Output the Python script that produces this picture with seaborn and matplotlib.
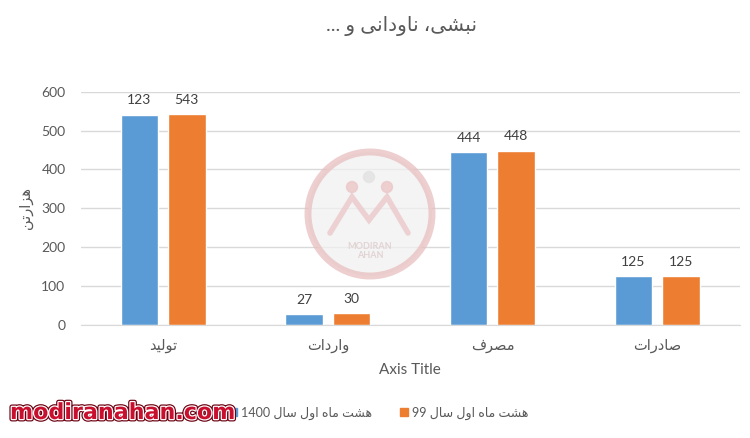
import re
import pandas as pd
import matplotlib
matplotlib.use("Agg")
import matplotlib.pyplot as plt
import matplotlib.patheffects as pe
from matplotlib.patches import Ellipse
from matplotlib.lines import Line2D
import seaborn as sns

# ---------------------------
# Data
# ---------------------------
categories = ["تولید", "واردات", "مصرف", "صادرات"]
series_names = ["هشت ماه اول سال 1400", "هشت ماه اول سال 99"]
values_1400 = [541, 27, 444, 125]
values_99 = [543, 30, 448, 125]
labels_1400 = ["123", "27", "444", "125"]
labels_99 = ["543", "30", "448", "125"]
title_text = "نبشی، ناودانی و ..."
ylabel_text = "هزارتن"
xlabel_text = "Axis Title"

colors = ["#5B9BD5", "#ED7D31"]
text_gray = "#595959"
grid_gray = "#D9D9D9"

# ---------------------------
# Simple Persian shaping (presentation forms + visual order)
# (isolated, final, initial, medial)
# ---------------------------
FORMS = {
    "ا": (0xFE8D, 0xFE8E, None, None),
    "ب": (0xFE8F, 0xFE90, 0xFE91, 0xFE92),
    "ت": (0xFE95, 0xFE96, 0xFE97, 0xFE98),
    "د": (0xFEA9, 0xFEAA, None, None),
    "ر": (0xFEAD, 0xFEAE, None, None),
    "ز": (0xFEAF, 0xFEB0, None, None),
    "س": (0xFEB1, 0xFEB2, 0xFEB3, 0xFEB4),
    "ش": (0xFEB5, 0xFEB6, 0xFEB7, 0xFEB8),
    "ص": (0xFEB9, 0xFEBA, 0xFEBB, 0xFEBC),
    "ف": (0xFED1, 0xFED2, 0xFED3, 0xFED4),
    "ل": (0xFEDD, 0xFEDE, 0xFEDF, 0xFEE0),
    "م": (0xFEE1, 0xFEE2, 0xFEE3, 0xFEE4),
    "ن": (0xFEE5, 0xFEE6, 0xFEE7, 0xFEE8),
    "ه": (0xFEE9, 0xFEEA, 0xFEEB, 0xFEEC),
    "و": (0xFEED, 0xFEEE, None, None),
    "ی": (0xFEEF, 0xFEF0, 0xFEF3, 0xFEF4),
}


def shape(text):
    out = []
    for i, ch in enumerate(text):
        f = FORMS.get(ch)
        if f is None:
            out.append(ch)
            continue
        prev = text[i - 1] if i > 0 else ""
        nxt = text[i + 1] if i + 1 < len(text) else ""
        join_prev = prev in FORMS and FORMS[prev][2] is not None
        join_next = f[2] is not None and nxt in FORMS
        if join_prev and join_next:
            code = f[3]
        elif join_prev:
            code = f[1]
        elif join_next:
            code = f[2]
        else:
            code = f[0]
        out.append(chr(code))
    tokens = re.findall(r"[0-9.]+|.", "".join(out))
    return "".join(reversed(tokens))


cat_shaped = [shape(c) for c in categories]
series_shaped = [shape(s) for s in series_names]

df = pd.DataFrame({
    "category": cat_shaped * 2,
    "series": [series_shaped[0]] * 4 + [series_shaped[1]] * 4,
    "value": values_1400 + values_99,
})

# ---------------------------
# Plot
# ---------------------------
sns.set_style("white")
plt.rcParams["font.family"] = ["Lato", "DejaVu Sans"]

fig = plt.figure(figsize=(7.5, 4.38), dpi=100)
ax = fig.add_axes([0.1076, 0.258, 0.8784, 0.5326])

sns.barplot(data=df, x="category", y="value", hue="series",
            order=cat_shaped, hue_order=series_shaped, palette=colors,
            saturation=1, width=0.577, gap=0.21, ax=ax, legend=False)

ax.set_ylim(0, 600)
ax.set_xlim(-0.5, 3.5)
ax.set_yticks(range(0, 700, 100))
ax.yaxis.grid(True, color=grid_gray, lw=1)
ax.set_axisbelow(True)
for side in ["top", "right", "left"]:
    ax.spines[side].set_visible(False)
ax.spines["bottom"].set_color(grid_gray)
ax.tick_params(axis="y", length=0, pad=11, labelsize=10, labelcolor=text_gray)
ax.tick_params(axis="x", length=0, pad=10, labelsize=10.5, labelcolor=text_gray)
ax.set_ylabel("")
ax.set_xlabel(xlabel_text, fontsize=11, color=text_gray)
ax.xaxis.set_label_coords(0.5, -0.193)
ax.xaxis.label.set_va("center")

for cont, labs in zip(ax.containers, [labels_1400, labels_99]):
    ax.bar_label(cont, labels=labs, padding=6, fontsize=10, color="#404040")

# watermark logo in the middle
ring = Ellipse((370 / 750, 1 - 214 / 438), 124 / 750, 124 / 438,
               transform=fig.transFigure, facecolor="#f1f1f1",
               edgecolor="#e9bfc0", lw=5, alpha=0.75, zorder=0.6)
ax.add_patch(ring)
m_x = [330, 352, 369, 387, 408]
m_y = [233, 197, 220, 197, 233]
ax.add_line(Line2D([x / 750 for x in m_x], [1 - y / 438 for y in m_y],
                   transform=fig.transFigure, color="#ecc9ca", lw=4,
                   alpha=0.8, zorder=0.7, solid_joinstyle="miter"))
for cx, cy, cc in [(352, 187, "#ecc9ca"), (369, 177, "#e3e3e3"), (387, 187, "#ecc9ca")]:
    ax.add_patch(Ellipse((cx / 750, 1 - cy / 438), 11 / 750, 11 / 438,
                         transform=fig.transFigure, color=cc, alpha=0.85,
                         zorder=0.7))
fig.text(370 / 750, 1 - 251 / 438, "MODIRAN\nAHAN", ha="center", va="center",
         fontsize=6.5, color="#e2d3d3", fontweight="bold", linespacing=1.0)

# title and y label
fig.text(402 / 750, 1 - 26 / 438, shape(title_text), ha="center", va="center",
         fontsize=14.5, color=text_gray)
fig.text(26 / 750, 1 - 208 / 438, shape(ylabel_text), ha="center", va="center",
         rotation=90, fontsize=10.5, color=text_gray)

# legend
handles = [plt.Rectangle((0, 0), 1, 1, color=c) for c in colors]
fig.legend(handles, series_shaped, loc="center", bbox_to_anchor=(0.505, 0.057),
           ncol=2, frameon=False, handlelength=0.65, handleheight=0.65,
           handletextpad=0.35, columnspacing=2.2, fontsize=9,
           labelcolor=text_gray)

# site watermark bottom-left
fig.text(10 / 750, 0.057, "modiranahan.com", ha="left", va="center",
         fontsize=16, fontweight="bold", color="#c8102e",
         family="DejaVu Sans", zorder=10,
         path_effects=[pe.Stroke(linewidth=3.5, foreground="#6b0010"),
                       pe.Stroke(linewidth=1.8, foreground="white"),
                       pe.Normal()])

fig.savefig("out.png", dpi=100, facecolor="white")
